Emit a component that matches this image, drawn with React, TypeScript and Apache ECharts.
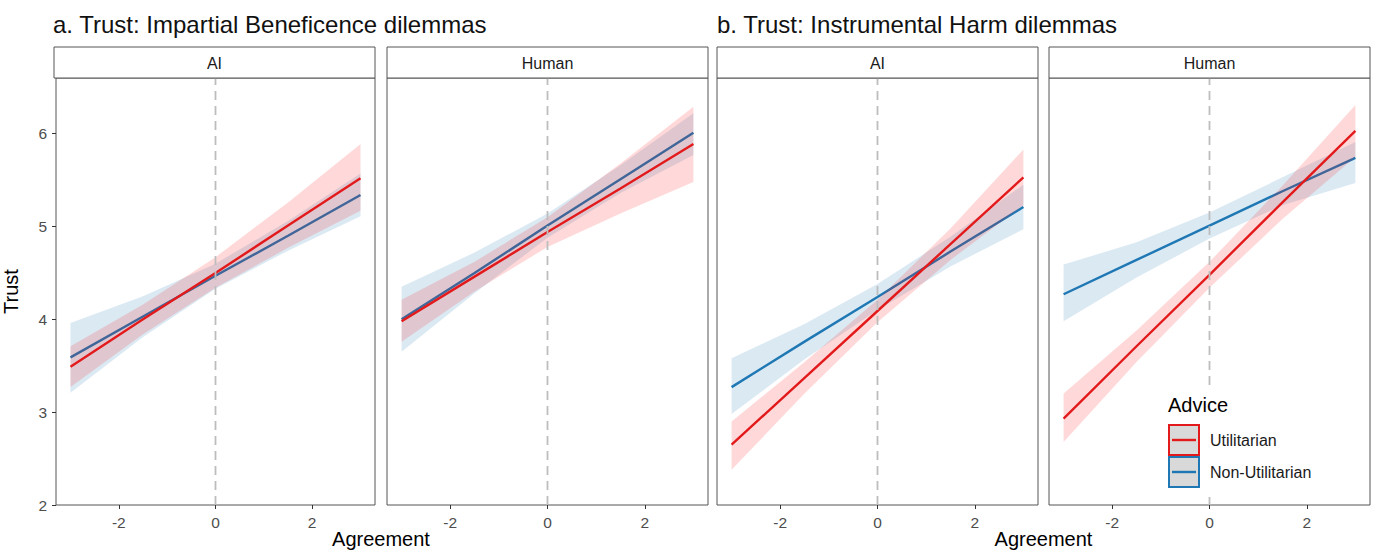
import React, { useEffect, useRef } from "react";
import * as echarts from "echarts";

// ---------- data ----------
const X_POINTS = [-3, -1.5, 0, 1.5, 3];
const X_TICKS = [-2, 0, 2];
const Y_TICKS = [2, 3, 4, 5, 6];
const X_MIN = -3.3;
const X_MAX = 3.3;
const Y_MIN = 2;
const Y_MAX = 6.6;
const VLINE_X = 0;

const FACETS = ["AI", "Human", "AI", "Human"];
const TITLES = ["a. Trust: Impartial Beneficence dilemmas", "b. Trust: Instrumental Harm dilemmas"];
const ADVICE = ["Utilitarian", "Non-Utilitarian"];
const X_TITLE = "Agreement";
const Y_TITLE = "Trust";
const LEGEND_TITLE = "Advice";

// a. Impartial Beneficence – AI
const A_AI_UTIL_FIT = [3.49, 4.0, 4.5, 5.01, 5.52];
const A_AI_UTIL_LO = [3.27, 3.84, 4.34, 4.77, 5.17];
const A_AI_UTIL_HI = [3.71, 4.16, 4.67, 5.26, 5.89];
const A_AI_NON_FIT = [3.59, 4.03, 4.47, 4.9, 5.34];
const A_AI_NON_LO = [3.21, 3.81, 4.33, 4.74, 5.11];
const A_AI_NON_HI = [3.96, 4.25, 4.6, 5.06, 5.57];

// a. Impartial Beneficence – Human
const A_HU_UTIL_FIT = [3.98, 4.46, 4.94, 5.41, 5.89];
const A_HU_UTIL_LO = [3.76, 4.3, 4.78, 5.14, 5.48];
const A_HU_UTIL_HI = [4.21, 4.62, 5.1, 5.68, 6.29];
const A_HU_NON_FIT = [4.0, 4.5, 5.01, 5.51, 6.01];
const A_HU_NON_LO = [3.65, 4.28, 4.88, 5.36, 5.77];
const A_HU_NON_HI = [4.35, 4.72, 5.14, 5.66, 6.22];

// b. Instrumental Harm – AI
const B_AI_UTIL_FIT = [2.65, 3.37, 4.09, 4.81, 5.53];
const B_AI_UTIL_LO = [2.38, 3.2, 3.97, 4.64, 5.23];
const B_AI_UTIL_HI = [2.9, 3.54, 4.21, 4.98, 5.83];
const B_AI_NON_FIT = [3.27, 3.76, 4.24, 4.73, 5.21];
const B_AI_NON_LO = [2.98, 3.57, 4.1, 4.57, 4.97];
const B_AI_NON_HI = [3.58, 3.95, 4.38, 4.89, 5.45];

// b. Instrumental Harm – Human
const B_HU_UTIL_FIT = [2.93, 3.71, 4.48, 5.26, 6.03];
const B_HU_UTIL_LO = [2.68, 3.54, 4.34, 5.08, 5.75];
const B_HU_UTIL_HI = [3.2, 3.88, 4.62, 5.44, 6.31];
const B_HU_NON_FIT = [4.27, 4.64, 5.01, 5.38, 5.74];
const B_HU_NON_LO = [3.98, 4.45, 4.87, 5.23, 5.47];
const B_HU_NON_HI = [4.59, 4.83, 5.15, 5.53, 5.91];

const PANEL_SERIES = [
  { util: [A_AI_UTIL_FIT, A_AI_UTIL_LO, A_AI_UTIL_HI], non: [A_AI_NON_FIT, A_AI_NON_LO, A_AI_NON_HI] },
  { util: [A_HU_UTIL_FIT, A_HU_UTIL_LO, A_HU_UTIL_HI], non: [A_HU_NON_FIT, A_HU_NON_LO, A_HU_NON_HI] },
  { util: [B_AI_UTIL_FIT, B_AI_UTIL_LO, B_AI_UTIL_HI], non: [B_AI_NON_FIT, B_AI_NON_LO, B_AI_NON_HI] },
  { util: [B_HU_UTIL_FIT, B_HU_UTIL_LO, B_HU_UTIL_HI], non: [B_HU_NON_FIT, B_HU_NON_LO, B_HU_NON_HI] },
];

// ---------- layout / style ----------
const FONT = "'Liberation Sans', Arial, Helvetica, sans-serif";
const PANEL_LEFT = [54, 387, 717, 1049];
const PANEL_TOP = 78;
const PANEL_W = 321;
const PANEL_H = 427;
const STRIP_TOP = 47;
const BORDER = "#555555";
const RED = "#E31A1C";
const BLUE = "#1F78B4";
const RED_FILL = "rgba(255,0,0,0.15)";
const BLUE_FILL = "rgba(31,120,180,0.16)";

function txt(x: number, y: number, text: string, size: number, fill: string, align = "left", vAlign = "middle", extra: any = {}) {
  return {
    type: "text",
    x,
    y,
    z: 100,
    silent: true,
    style: {
      text,
      fill,
      fontSize: size,
      fontFamily: FONT,
      align,
      verticalAlign: vAlign,
      textAlign: align,
      textVerticalAlign: vAlign,
    },
    ...extra,
  };
}

function bandSeries(gi: number, lo: number[], hi: number[], color: string, z: number) {
  return {
    type: "custom",
    xAxisIndex: gi,
    yAxisIndex: gi,
    z,
    silent: true,
    data: X_POINTS.map((x, i) => [x, lo[i], hi[i]]),
    encode: { x: 0, y: [1, 2] },
    renderItem: (params: any, api: any) => {
      if (params.dataIndex !== 0) return { type: "group", children: [] };
      const upper = X_POINTS.map((x, i) => api.coord([x, hi[i]]));
      const lower = X_POINTS.map((x, i) => api.coord([x, lo[i]])).reverse();
      return {
        type: "polygon",
        silent: true,
        shape: { points: [...upper, ...lower] },
        style: { fill: color, stroke: "none" },
      };
    },
  };
}

function lineSeries(gi: number, fit: number[], color: string, z: number) {
  return {
    type: "line",
    xAxisIndex: gi,
    yAxisIndex: gi,
    z,
    silent: true,
    symbol: "none",
    data: X_POINTS.map((x, i) => [x, fit[i]]),
    lineStyle: { color, width: 2.4 },
  };
}

export default function App() {
  const ref = useRef<HTMLDivElement>(null);

  useEffect(() => {
    if (!ref.current) return;
    const chart = echarts.init(ref.current, undefined, { renderer: "svg" });

    const grids = PANEL_LEFT.map((left) => ({
      left,
      top: PANEL_TOP,
      width: PANEL_W,
      height: PANEL_H,
      show: true,
      backgroundColor: "#ffffff",
      borderColor: BORDER,
      borderWidth: 1,
    }));

    const xAxes = PANEL_LEFT.map((_, gi) => ({
      type: "value",
      gridIndex: gi,
      min: X_MIN,
      max: X_MAX,
      position: "bottom",
      splitLine: { show: false },
      axisLine: { show: false, onZero: false },
      axisTick: { show: true, customValues: X_TICKS, length: 4, lineStyle: { color: "#333", width: 1 } },
      axisLabel: { customValues: X_TICKS, color: "#4d4d4d", fontSize: 15.5, margin: 9, fontFamily: FONT },
    }));

    const yAxes = PANEL_LEFT.map((_, gi) => ({
      type: "value",
      gridIndex: gi,
      min: Y_MIN,
      max: Y_MAX,
      position: "left",
      show: gi === 0,
      splitLine: { show: false },
      axisLine: { show: false, onZero: false },
      axisTick: { show: gi === 0, customValues: Y_TICKS, length: 4, lineStyle: { color: "#333", width: 1 } },
      axisLabel: { show: gi === 0, customValues: Y_TICKS, color: "#4d4d4d", fontSize: 15.5, margin: 9, fontFamily: FONT },
      name: gi === 0 ? Y_TITLE : "",
      nameLocation: "middle",
      nameGap: 35,
      nameTextStyle: { color: "#000", fontSize: 20, fontFamily: FONT },
    }));

    const series: any[] = [];
    PANEL_SERIES.forEach((p, gi) => {
      series.push(bandSeries(gi, p.non[1], p.non[2], BLUE_FILL, 1));
      series.push(lineSeries(gi, p.non[0], BLUE, 2));
      series.push(bandSeries(gi, p.util[1], p.util[2], RED_FILL, 3));
      series.push(lineSeries(gi, p.util[0], RED, 4));
      series.push({
        type: "line",
        xAxisIndex: gi,
        yAxisIndex: gi,
        z: 5,
        silent: true,
        symbol: "none",
        data: [
          [VLINE_X, Y_MIN],
          [VLINE_X, Y_MAX],
        ],
        lineStyle: { color: "#bdbdbd", width: 1.8, type: [9, 6] },
      });
    });

    const graphics: any[] = [];
    // titles
    graphics.push(txt(PANEL_LEFT[0] - 1, 24, TITLES[0], 24, "#111"));
    graphics.push(txt(PANEL_LEFT[2], 24, TITLES[1], 24, "#111"));
    // strips
    PANEL_LEFT.forEach((left, gi) => {
      graphics.push({
        type: "rect",
        z: 100,
        silent: true,
        shape: { x: left, y: STRIP_TOP, width: PANEL_W, height: PANEL_TOP - STRIP_TOP },
        style: { fill: "#ffffff", stroke: BORDER, lineWidth: 1 },
      });
      graphics.push(txt(left + PANEL_W / 2, (STRIP_TOP + PANEL_TOP) / 2 + 0.5, FACETS[gi], 16, "#1a1a1a", "center"));
    });
    // x titles
    graphics.push(txt((PANEL_LEFT[0] + PANEL_LEFT[1] + PANEL_W) / 2, 539, X_TITLE, 20, "#000", "center"));
    graphics.push(txt((PANEL_LEFT[2] + PANEL_LEFT[3] + PANEL_W) / 2, 539, X_TITLE, 20, "#000", "center"));

    // legend
    const LX = 1169;
    graphics.push({
      type: "rect",
      z: 99,
      silent: true,
      shape: { x: 1159, y: 387, width: 165, height: 110 },
      style: { fill: "#ffffff", stroke: "none" },
    });
    graphics.push(txt(LX - 1, 405, LEGEND_TITLE, 20, "#000"));
    const keyColors = [RED, BLUE];
    ADVICE.forEach((label, i) => {
      const y0 = 425 + i * 32;
      graphics.push({
        type: "rect",
        z: 100,
        silent: true,
        shape: { x: LX, y: y0, width: 30, height: 30 },
        style: { fill: "#d9d9d9", stroke: keyColors[i], lineWidth: 2 },
      });
      graphics.push({
        type: "line",
        z: 101,
        silent: true,
        shape: { x1: LX + 3, y1: y0 + 15, x2: LX + 27, y2: y0 + 15 },
        style: { stroke: keyColors[i], lineWidth: 2.4 },
      });
      graphics.push(txt(LX + 41, y0 + 15, label, 16, "#1a1a1a"));
    });

    chart.setOption({
      animation: false,
      backgroundColor: "#ffffff",
      grid: grids,
      xAxis: xAxes,
      yAxis: yAxes,
      series,
      graphic: { elements: graphics },
    });

    return () => chart.dispose();
  }, []);

  return (
    <div
      ref={ref}
      style={{ position: "absolute", left: 0, top: 0, width: 1373, height: 551, background: "#fff" }}
    />
  );
}
